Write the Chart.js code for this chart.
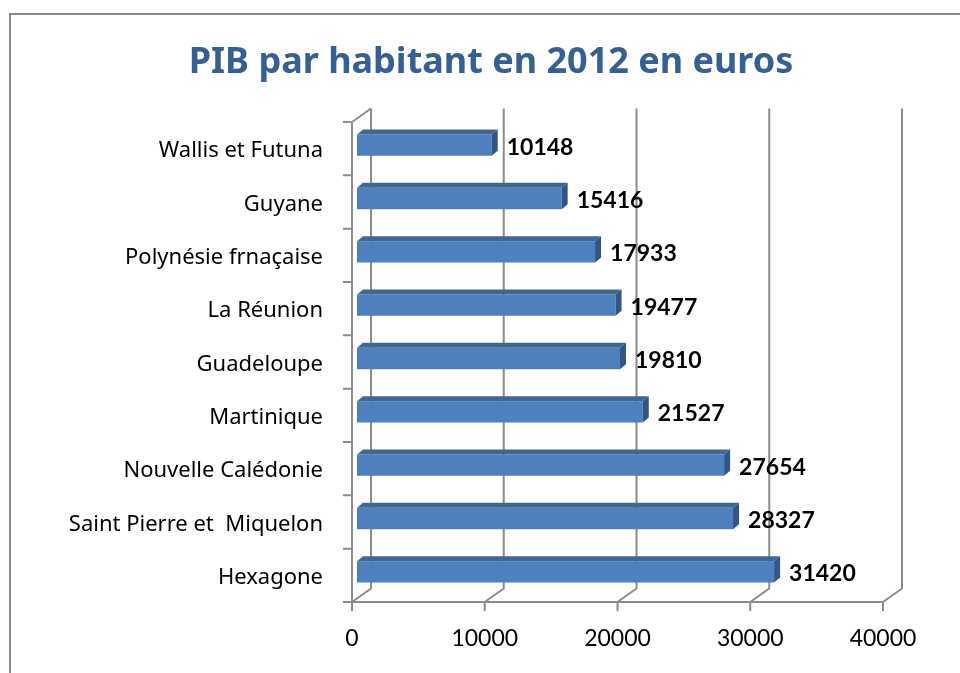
<!DOCTYPE html>
<html>
<head>
<meta charset="utf-8">
<script src="https://cdn.jsdelivr.net/npm/chart.js@4.4.1/dist/chart.umd.min.js"></script>
<style>
  html, body { margin: 0; padding: 0; background: #fff; }
  #wrap { width: 960px; height: 673px; position: relative; }
</style>
</head>
<body>
<div id="wrap"><canvas id="gdpChart" width="960" height="673"></canvas></div>
<script>
const chartTitle = 'PIB par habitant en 2012 en euros';
const regions = ['Wallis et Futuna', 'Guyane', 'Polynésie frnaçaise', 'La Réunion', 'Guadeloupe',
                 'Martinique', 'Nouvelle Calédonie', 'Saint Pierre et  Miquelon', 'Hexagone'];
const gdpValues = [10148, 15416, 17933, 19477, 19810, 21527, 27654, 28327, 31420];
const xTicks = [0, 10000, 20000, 30000, 40000];

// offsets of the front and back planes relative to the bar plane (chart area)
const FRONT = { x: -5, y: 3.5 };
const BACK = { x: 14, y: -10 };
const DEPTH = { x: 6, y: -5 };
const AXIS_COLOR = '#8c8c8c';

const walls3d = {
    id: 'walls3d',
    beforeDraw(chart) {
        const c = chart.ctx;
        // outer border
        c.save();
        c.strokeStyle = '#8a8a8a';
        c.lineWidth = 2;
        c.strokeRect(10, 14, 1000, 700);
        // title
        c.fillStyle = '#376092';
        c.font = 'bold 36px "Noto Sans"';
        c.textAlign = 'center';
        c.textBaseline = 'middle';
        c.fillText(chartTitle, 491, 63);
        c.restore();
    },
    beforeDatasetsDraw(chart) {
        const c = chart.ctx;
        const a = chart.chartArea;
        const xs = chart.scales.x;
        const ys = chart.scales.y;
        const fl = a.left + FRONT.x, fb = a.bottom + FRONT.y, ft = a.top + FRONT.y;
        const bl = a.left + BACK.x, bb = a.bottom + BACK.y, bt = a.top + BACK.y;
        c.save();
        c.strokeStyle = AXIS_COLOR;
        c.lineWidth = 2;
        c.beginPath();
        // left wall
        c.moveTo(fl, ft); c.lineTo(fl, fb);
        c.moveTo(fl, ft); c.lineTo(bl, bt);
        c.moveTo(bl, bt); c.lineTo(bl, bb);
        // floor front edge
        c.moveTo(fl, fb); c.lineTo(xs.getPixelForValue(xTicks[xTicks.length - 1]) + FRONT.x, fb);
        // gridlines on back wall + floor diagonals + ticks
        xTicks.forEach(v => {
            const px = xs.getPixelForValue(v);
            c.moveTo(px + BACK.x, bt); c.lineTo(px + BACK.x, bb);
            c.lineTo(px + FRONT.x, fb);
            c.lineTo(px + FRONT.x, fb + 9);
        });
        // category ticks on left wall
        const n = regions.length;
        const step = (a.bottom - a.top) / n;
        for (let i = 0; i <= n; i++) {
            const y = ys.top + i * step + FRONT.y;
            c.moveTo(fl - 9, y); c.lineTo(fl, y);
        }
        c.stroke();
        c.restore();
    },
    afterDatasetsDraw(chart) {
        const c = chart.ctx;
        const meta = chart.getDatasetMeta(0);
        c.save();
        meta.data.forEach((bar, i) => {
            const x0 = bar.base, x1 = bar.x;
            const yt = bar.y - bar.height / 2, yb = bar.y + bar.height / 2;
            // top face
            c.fillStyle = '#3c6899';
            c.beginPath();
            c.moveTo(x0, yt); c.lineTo(x0 + DEPTH.x, yt + DEPTH.y);
            c.lineTo(x1 + DEPTH.x, yt + DEPTH.y); c.lineTo(x1, yt);
            c.closePath(); c.fill();
            // side face
            c.fillStyle = '#2f5687';
            c.beginPath();
            c.moveTo(x1, yt); c.lineTo(x1 + DEPTH.x, yt + DEPTH.y);
            c.lineTo(x1 + DEPTH.x, yb + DEPTH.y); c.lineTo(x1, yb);
            c.closePath(); c.fill();
            // value label
            c.fillStyle = '#000';
            c.font = 'bold 23px Lato';
            c.textAlign = 'left';
            c.textBaseline = 'middle';
            c.fillText(String(gdpValues[i]), x1 + DEPTH.x + 9, bar.y + 2);
        });
        c.restore();
    }
};

const ctx = document.getElementById('gdpChart').getContext('2d');
const gdpChart = new Chart(ctx, {
    type: 'bar',
    data: {
        labels: regions,
        datasets: [{
            data: gdpValues,
            backgroundColor: '#4d80bd',
            borderWidth: 0,
            categoryPercentage: 1,
            barPercentage: 0.4
        }]
    },
    options: {
        indexAxis: 'y',
        responsive: false,
        animation: false,
        layout: { padding: { left: 0, top: 118.5, right: 72, bottom: 0 } },
        plugins: {
            legend: { display: false },
            tooltip: { enabled: false },
            title: { display: false }
        },
        scales: {
            x: {
                min: 0,
                max: 40000,
                afterBuildTicks: s => { s.ticks = xTicks.map(v => ({ value: v })); },
                afterFit: s => { s.height = 74.5; },
                grid: { display: false },
                border: { display: false },
                ticks: {
                    color: '#000',
                    font: { family: 'Lato', size: 23 },
                    padding: 18,
                    labelOffset: -5,
                    maxRotation: 0,
                    callback: v => String(v)
                }
            },
            y: {
                afterFit: s => { s.width = 357; },
                grid: { display: false },
                border: { display: false },
                ticks: {
                    color: '#000',
                    font: { family: 'Noto Sans', size: 22 },
                    padding: 26,
                    labelOffset: 6
                }
            }
        }
    },
    plugins: [walls3d]
});
</script>
</body>
</html>
